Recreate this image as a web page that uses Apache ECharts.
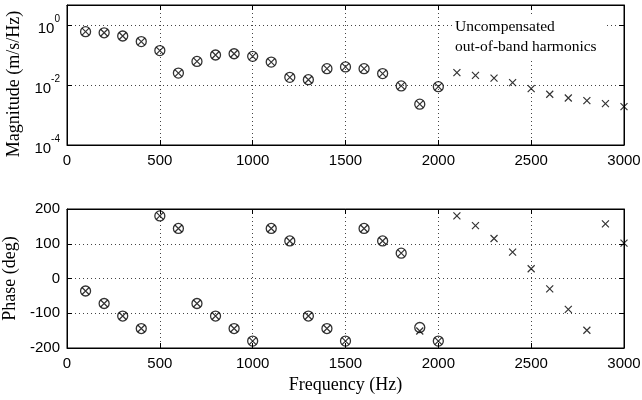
<!DOCTYPE html>
<html><head><meta charset="utf-8">
<script src="https://cdn.jsdelivr.net/npm/echarts@6/dist/echarts.min.js"></script>
<style>html,body{margin:0;padding:0;background:#fff}#c{width:642px;height:400px}</style>
</head><body><div id="c"></div>
<script>
const harmonicFreqs = [100,200,300,400,500,600,700,800,900,1000,1100,1200,1300,1400,1500,1600,1700,1800,1900,2000,
  2100,2200,2300,2400,2500,2600,2700,2800,2900,3000];
// magnitude (m/s/Hz), 'x' markers: all harmonics
const magnitudeAll = [0.6,0.55,0.43,0.28,0.14,0.025,0.061,0.1,0.11,0.09,0.058,0.018,0.015,0.035,0.04,0.035,0.024,0.0093,0.0023,0.0088,
  0.026,0.021,0.017,0.012,0.0076,0.0049,0.0037,0.003,0.0024,0.0019];
// magnitude, 'o' markers: compensated harmonics (100-2000 Hz)
const magnitudeComp = [0.6,0.55,0.43,0.28,0.14,0.025,0.061,0.1,0.11,0.09,0.058,0.018,0.015,0.035,0.04,0.035,0.024,0.0093,0.0023,0.0088];
// phase (deg)
const phaseAll = [-36,-72,-108,-144,180,144,-72,-108,-144,-180,144,108,-108,-144,-180,144,108,73,-151,-180,
  180,152,115,76,28,-30,-89,-149,157,102];
const phaseComp = [-36,-72,-108,-144,180,144,-72,-108,-144,-180,144,108,-108,-144,-180,144,108,73,-141,-180];
const freqTicks = {min:0, max:3000, interval:500};
const phaseTicks = {min:-200, max:200, interval:100};
const annotation = ['Uncompensated','out-of-band harmonics'];

const pairs = (xs, ys) => ys.map((v,i)=>[xs[i], v]);
const chart = echarts.init(document.getElementById('c'), null, {renderer:'canvas'});
const sans = 'Liberation Sans';
const serif = 'Liberation Serif';
const lab = () => ({color:'#000', fontFamily:sans, fontSize:15, formatter: v => String(v)});
const dotted = () => ({show:true, lineStyle:{color:'#444', type:[1,3], width:1}});
const axLine = () => ({show:true, onZero:false, lineStyle:{color:'#000', width:1}});
const tickIn = () => ({show:true, inside:true, length:5, lineStyle:{color:'#000'}});
const xPath = 'path://M0,0L10,10M10,0L0,10';

function xAx(grid, main){
  return {type:'value', gridIndex:grid, min:freqTicks.min, max:freqTicks.max, interval:freqTicks.interval,
    position: main?'bottom':'top', axisLine:axLine(), axisTick:tickIn(),
    axisLabel: main?Object.assign({margin:8}, lab()):{show:false},
    splitLine: main?dotted():{show:false}};
}
const magLabel = {show:true, margin:7, color:'#000', showMaxLabel:false,
  formatter: v => '{b|10}{s|' + Math.round(Math.log10(v)) + '}',
  rich:{b:{fontFamily:sans, fontSize:15, color:'#000', lineHeight:22, verticalAlign:'bottom'},
        s:{fontFamily:sans, fontSize:10, color:'#000', lineHeight:22, verticalAlign:'top'}}};
const gridBase = {left:67, right:18, outerBoundsMode:'none', containLabel:false, show:true,
  borderColor:'#000', borderWidth:1, backgroundColor:'rgba(0,0,0,0)'};

const option = {
  animation:false,
  backgroundColor:'#fff',
  grid:[Object.assign({top:5, height:140}, gridBase), Object.assign({top:209, height:139}, gridBase)],
  xAxis:[xAx(0,true), xAx(0,false),
    Object.assign(xAx(1,true), {name:'Frequency (Hz)', nameLocation:'middle', nameGap:28,
      nameTextStyle:{fontFamily:serif, fontSize:18, color:'#000'}}), xAx(1,false)],
  yAxis:[
    {type:'log', gridIndex:0, min:1e-4, max:Math.pow(10,2/3), interval:2, logBase:10,
     name:'Magnitude (m/s/Hz)', nameLocation:'middle', nameGap:37,
     nameTextStyle:{fontFamily:serif, fontSize:18, color:'#000', padding:[0,18,0,0]},
     axisLine:axLine(), axisTick:tickIn(), axisLabel:magLabel, splitLine:dotted(), minorTick:{show:false}},
    {type:'log', gridIndex:0, min:1e-4, max:Math.pow(10,2/3), interval:2, logBase:10, position:'right',
     axisLine:axLine(), axisTick:tickIn(), axisLabel:{show:false}, splitLine:{show:false}},
    {type:'value', gridIndex:1, min:phaseTicks.min, max:phaseTicks.max, interval:phaseTicks.interval,
     name:'Phase (deg)', nameLocation:'middle', nameGap:40,
     nameTextStyle:{fontFamily:serif, fontSize:18, color:'#000'},
     axisLine:axLine(), axisTick:tickIn(), axisLabel:Object.assign({margin:7}, lab()), splitLine:dotted()},
    {type:'value', gridIndex:1, min:phaseTicks.min, max:phaseTicks.max, interval:phaseTicks.interval, position:'right',
     axisLine:axLine(), axisTick:tickIn(), axisLabel:{show:false}, splitLine:{show:false}}
  ],
  series:[
    {type:'scatter', xAxisIndex:0, yAxisIndex:0, data:pairs(harmonicFreqs, magnitudeComp), symbol:'circle', symbolSize:10,
     itemStyle:{color:'rgba(0,0,0,0)', borderColor:'#000', borderWidth:1.3}, z:3},
    {type:'scatter', xAxisIndex:0, yAxisIndex:0, data:pairs(harmonicFreqs, magnitudeAll), symbol:xPath, symbolSize:7,
     itemStyle:{color:'rgba(0,0,0,0)', borderColor:'#000', borderWidth:1.2}, z:3},
    {type:'scatter', xAxisIndex:2, yAxisIndex:2, data:pairs(harmonicFreqs, phaseComp), symbol:'circle', symbolSize:10,
     itemStyle:{color:'rgba(0,0,0,0)', borderColor:'#000', borderWidth:1.3}, z:3},
    {type:'scatter', xAxisIndex:2, yAxisIndex:2, data:pairs(harmonicFreqs, phaseAll), symbol:xPath, symbolSize:7,
     itemStyle:{color:'rgba(0,0,0,0)', borderColor:'#000', borderWidth:1.2}, z:3}
  ],
  graphic:[
    {type:'rect', left:452, top:14, shape:{width:154, height:44}, style:{fill:'#fff'}, z:2},
    {type:'text', left:455, top:17, style:{text:annotation.join('\n'), fontFamily:serif, fontSize:15.5, lineHeight:20,
      fill:'#000', align:'center'}, z:4}
  ]
};
chart.setOption(option);
</script></body></html>
